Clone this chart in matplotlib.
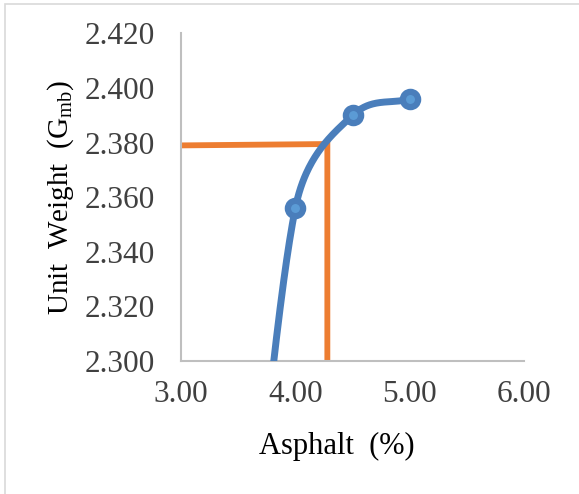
import numpy as np
import matplotlib
matplotlib.use('Agg')
import matplotlib.pyplot as plt
from matplotlib.patches import Rectangle

plt.rcParams['font.family'] = 'Liberation Serif'
plt.rcParams['mathtext.fontset'] = 'custom'
plt.rcParams['mathtext.rm'] = 'Liberation Serif'

# blue series (first point sits below the visible range and is clipped)
asphalt = [3.5, 4.0, 4.5, 5.0]
gmb = [2.180, 2.356, 2.390, 2.396]
marker_x = asphalt[1:]
marker_y = gmb[1:]

# orange guide line (optimum asphalt content)
guide_x = [3.0, 4.28, 4.28]
guide_y = [2.379, 2.3795, 2.300]

xticks = [3.0, 4.0, 5.0, 6.0]
yticks = [2.300, 2.320, 2.340, 2.360, 2.380, 2.400, 2.420]


def excel_smooth(ax, x, y, n=80):
    # excel style "smoothed line": bezier segments built in screen space
    pts = ax.transData.transform(np.column_stack([x, y]))
    m = len(pts)
    out = []
    for i in range(m - 1):
        p1, p2 = pts[i], pts[i + 1]
        p0 = pts[i - 1] if i > 0 else p1
        p3 = pts[i + 2] if i + 2 < m else p2
        f0 = 1 / 6 if i > 0 else 1 / 3
        f3 = 1 / 6 if i + 2 < m else 1 / 3
        d12 = np.hypot(*(p2 - p1))
        d02 = np.hypot(*(p2 - p0))
        d13 = np.hypot(*(p3 - p1))
        if d02 * f0 > d12 / 2:
            f0 = d12 / 2 / d02
        if d13 * f3 > d12 / 2:
            f3 = d12 / 2 / d13
        c1 = p1 + f0 * (p2 - p0)
        c2 = p2 - f3 * (p3 - p1)
        t = np.linspace(0, 1, n)[:, None]
        seg = ((1 - t) ** 3 * p1 + 3 * (1 - t) ** 2 * t * c1
               + 3 * (1 - t) * t ** 2 * c2 + t ** 3 * p2)
        out.append(seg)
    out = ax.transData.inverted().transform(np.vstack(out))
    return out[:, 0], out[:, 1]


fig = plt.figure(figsize=(5.79, 4.94), dpi=100)
fig.patches.append(Rectangle((4.5 / 579, -0.1), 1.2, 1 - 3.5 / 494 + 0.1,
                             transform=fig.transFigure, fill=False,
                             edgecolor='#d9d9d9', linewidth=1.2))
ax = fig.add_axes([181 / 579, 1 - 361 / 494, (524 - 181) / 579, (361 - 33.5) / 494])
ax.set_xlim(3.0, 6.0)
ax.set_ylim(2.300, 2.420)

sx, sy = excel_smooth(ax, asphalt, gmb)
ax.plot(sx, sy, color='#4a7ebb', linewidth=5, solid_capstyle='butt', zorder=3)
ax.plot(marker_x, marker_y, linestyle='none', marker='o', markersize=11,
        markerfacecolor='#5b9bd5', markeredgecolor='#4a7ebb', markeredgewidth=4.5, zorder=4)
ax.plot(guide_x, guide_y, color='#ed7d31', linewidth=4.2, solid_joinstyle='miter', zorder=2)

ax.set_xticks(xticks)
ax.set_yticks(yticks)
ax.set_xticklabels(['%.2f' % v for v in xticks])
ax.set_yticklabels(['%.3f' % v for v in yticks])
ax.tick_params(length=0, labelsize=22.5, labelcolor='#404040')
ax.tick_params(axis='y', pad=18.5)
ax.tick_params(axis='x', pad=14)
for s in ['top', 'right']:
    ax.spines[s].set_visible(False)
for s in ['left', 'bottom']:
    ax.spines[s].set_color('#bfbfbf')
    ax.spines[s].set_linewidth(1.5)

ax.set_xlabel('Asphalt  (%)', fontsize=22)
ax.set_ylabel(r'Unit  Weight  ($\mathregular{G_{mb}}$)', fontsize=21)
ax.xaxis.set_label_coords((336.5 - 181) / (524 - 181), -(446 - 361) / (361 - 33.5))
ax.xaxis.label.set_va('center')
ax.yaxis.set_label_coords(-(181 - 61) / (524 - 181), 0.5)
ax.yaxis.label.set_va('center')

fig.savefig('out.png', dpi=100)
